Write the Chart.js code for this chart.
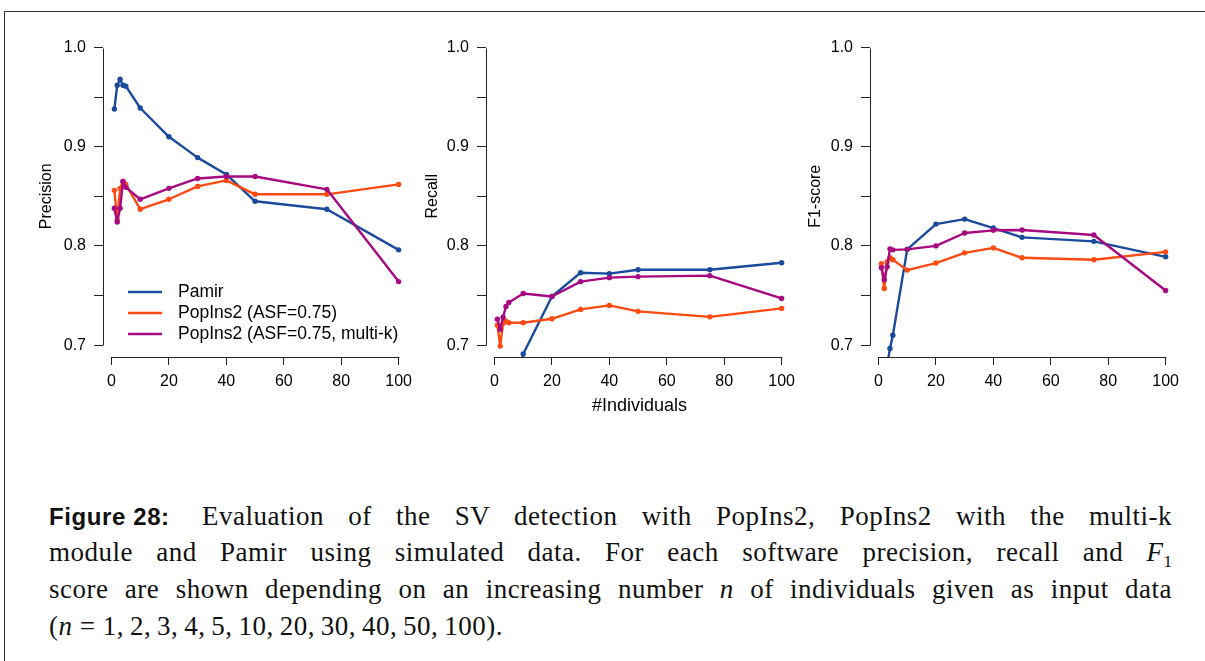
<!DOCTYPE html>
<html lang="en">
<head>
    <meta charset="UTF-8">
    <title>Figure 28</title>
    <script src="https://cdn.jsdelivr.net/npm/chart.js"></script>
    <style>
        body {
            margin: 0;
            width: 1205px;
            height: 661px;
            background: #fff;
            position: relative;
            overflow: hidden;
        }
        .marco {
            position: absolute;
            left: 4px;
            top: 11px;
            width: 1300px;
            height: 700px;
            border-top: 1px solid #333;
            border-left: 1px solid #333;
        }
        canvas {
            position: absolute;
            top: 18px;
        }
        .linea {
            position: absolute;
            left: 49px;
            width: 1123px;
            height: 37px;
            line-height: 37px;
            font-family: "Liberation Serif", serif;
            font-size: 27px;
            letter-spacing: 0.5px;
            color: #111;
            white-space: nowrap;
            text-align: justify;
            text-align-last: justify;
        }
        .linea.ultima {
            text-align-last: left;
        }
        .fig {
            display: inline-block;
            font-family: "Liberation Sans", sans-serif;
            font-weight: bold;
            font-size: 24px;
            letter-spacing: 0.6px;
            margin-right: 8px;
        }
        sub { font-size: 17px; line-height: 0; letter-spacing: 0; }
    </style>
</head>
<body>
    <div class="marco"></div>

    <canvas id="chartPrecision" width="390" height="402" style="left:30px"></canvas>
    <canvas id="chartRecall" width="390" height="402" style="left:413px"></canvas>
    <canvas id="chartF1" width="390" height="402" style="left:797px"></canvas>

    <div class="linea" style="top:498px"><span class="fig">Figure&nbsp;28:</span> Evaluation of the SV detection with PopIns2, PopIns2 with the multi-k</div>
    <div class="linea" style="top:534px">module and Pamir using simulated data. For each software precision, recall and <i>F</i><sub>1</sub></div>
    <div class="linea" style="top:571px">score are shown depending on an increasing number <i>n</i> of individuals given as input data</div>
    <div class="linea ultima" style="top:608px">(<i>n</i> = 1,&thinsp;2,&thinsp;3,&thinsp;4,&thinsp;5,&thinsp;10,&thinsp;20,&thinsp;30,&thinsp;40,&thinsp;50,&thinsp;100).</div>

    <script>
        // Datos
        const individuos = [1, 2, 3, 4, 5, 10, 20, 30, 40, 50, 75, 100];
        const series = ['Pamir', 'PopIns2 (ASF=0.75)', 'PopIns2 (ASF=0.75, multi-k)'];
        const colores = ['#1a4a9b', '#ff4a12', '#a60a80'];

        const precisionPamir = [0.938, 0.962, 0.968, 0.962, 0.961, 0.939, 0.910, 0.889, 0.872, 0.845, 0.837, 0.796];
        const precisionPopIns = [0.856, 0.826, 0.858, 0.865, 0.862, 0.837, 0.847, 0.860, 0.866, 0.852, 0.852, 0.862];
        const precisionMultiK = [0.838, 0.824, 0.838, 0.865, 0.859, 0.847, 0.858, 0.868, 0.870, 0.870, 0.857, 0.764];

        // los primeros puntos de Pamir quedan por debajo del rango visible
        const recallPamir = [0.46, 0.50, 0.524, 0.545, 0.563, 0.691, 0.749, 0.773, 0.772, 0.776, 0.776, 0.783];
        const recallPopIns = [0.720, 0.699, 0.722, 0.724, 0.7225, 0.7225, 0.7265, 0.736, 0.740, 0.734, 0.7285, 0.737];
        const recallMultiK = [0.726, 0.716, 0.728, 0.739, 0.743, 0.752, 0.749, 0.764, 0.768, 0.769, 0.770, 0.747];

        const f1Pamir = [0.617, 0.658, 0.680, 0.6966, 0.710, 0.7965, 0.822, 0.827, 0.818, 0.8086, 0.8046, 0.789];
        const f1PopIns = [0.782, 0.757, 0.784, 0.788, 0.786, 0.7756, 0.7827, 0.793, 0.798, 0.788, 0.786, 0.794];
        const f1MultiK = [0.778, 0.766, 0.779, 0.797, 0.796, 0.7965, 0.800, 0.813, 0.8157, 0.816, 0.811, 0.755];

        const ticksX = [0, 20, 40, 60, 80, 100];
        const ticksY = [0.7, 0.75, 0.8, 0.85, 0.9, 0.95, 1.0];
        const etiquetasY = ['0.7', '', '0.8', '', '0.9', '', '1.0'];

        Chart.defaults.font.family = '"Liberation Sans", Arial, sans-serif';
        Chart.defaults.color = '#000';

        // ejes al estilo R: la linea solo cubre el rango de los ticks
        const ejesR = {
            id: 'ejesR',
            afterDraw(chart) {
                const ctx = chart.ctx;
                const a = chart.chartArea;
                const x = chart.scales.x, y = chart.scales.y;
                ctx.save();
                ctx.strokeStyle = '#222';
                ctx.lineWidth = 1;
                ctx.beginPath();
                const xl = Math.round(a.left) + 0.5;
                ctx.moveTo(xl, Math.round(y.getPixelForValue(ticksY[0])) + 0.5);
                ctx.lineTo(xl, Math.round(y.getPixelForValue(ticksY[ticksY.length - 1])) + 0.5);
                const yb = Math.round(a.bottom) + 0.5;
                ctx.moveTo(Math.round(x.getPixelForValue(ticksX[0])) + 0.5, yb);
                ctx.lineTo(Math.round(x.getPixelForValue(ticksX[ticksX.length - 1])) + 0.5, yb);
                ctx.stroke();
                ctx.restore();
            }
        };

        // leyenda dentro del primer panel
        const leyendaDentro = {
            id: 'leyendaDentro',
            afterDraw(chart, args, opts) {
                if (!opts.mostrar) return;
                const ctx = chart.ctx;
                const a = chart.chartArea;
                ctx.save();
                ctx.font = '17.5px "Liberation Sans", Arial, sans-serif';
                ctx.textBaseline = 'middle';
                ctx.lineWidth = 2.6;
                series.forEach((nombre, i) => {
                    const yy = a.bottom - 65 + i * 21;
                    ctx.strokeStyle = colores[i];
                    ctx.beginPath();
                    ctx.moveTo(a.left + 25, yy);
                    ctx.lineTo(a.left + 59, yy);
                    ctx.stroke();
                    ctx.fillStyle = '#000';
                    ctx.fillText(nombre, a.left + 75, yy);
                });
                ctx.restore();
            }
        };

        function armarDatos(valores) {
            return valores.map((vals, i) => ({
                label: series[i],
                data: individuos.map((n, j) => ({ x: n, y: vals[j] })),
                borderColor: colores[i],
                backgroundColor: colores[i],
                borderWidth: 2.4,
                pointRadius: 2.7,
                pointBorderWidth: 0,
                pointBackgroundColor: colores[i],
                borderJoinStyle: 'round',
                tension: 0,
                order: 3 - i
            }));
        }

        function crearPanel(id, valores, tituloY, tituloX, conLeyenda, margenTitulo) {
            new Chart(document.getElementById(id), {
                type: 'line',
                data: { datasets: armarDatos(valores) },
                options: {
                    responsive: false,
                    animation: false,
                    layout: { padding: { top: 10, right: 10, left: 0, bottom: 0 } },
                    plugins: {
                        legend: { display: false },
                        tooltip: { enabled: false },
                        leyendaDentro: { mostrar: conLeyenda }
                    },
                    scales: {
                        x: {
                            type: 'linear',
                            min: -2.96,
                            max: 103.96,
                            afterBuildTicks: s => { s.ticks = ticksX.map(v => ({ value: v })); },
                            afterFit: s => { s.height = 63; },
                            grid: { drawOnChartArea: false, tickLength: 8, color: '#222' },
                            border: { display: false },
                            ticks: { font: { size: 16 }, padding: 7, maxRotation: 0, autoSkip: false },
                            title: { display: !!tituloX, text: tituloX, font: { size: 18 }, padding: { top: 4, bottom: 3 } }
                        },
                        y: {
                            min: 0.688,
                            max: 1.012,
                            afterBuildTicks: s => { s.ticks = ticksY.map(v => ({ value: v })); },
                            afterFit: s => { s.width = 73; },
                            grid: { drawOnChartArea: false, tickLength: 9, color: '#222' },
                            border: { display: false },
                            ticks: {
                                font: { size: 16 },
                                padding: 8,
                                autoSkip: false,
                                callback: (v, i) => etiquetasY[i]
                            },
                            title: {
                                display: true, text: tituloY, font: { size: 16 },
                                padding: { top: margenTitulo, bottom: 4 }
                            }
                        }
                    }
                },
                plugins: [ejesR, leyendaDentro]
            });
        }

        crearPanel('chartPrecision', [precisionPamir, precisionPopIns, precisionMultiK], 'Precision', '', true, 7);
        crearPanel('chartRecall', [recallPamir, recallPopIns, recallMultiK], 'Recall', '#Individuals', false, 10);
        crearPanel('chartF1', [f1Pamir, f1PopIns, f1MultiK], 'F1-score', '', false, 9);
    </script>
</body>
</html>
